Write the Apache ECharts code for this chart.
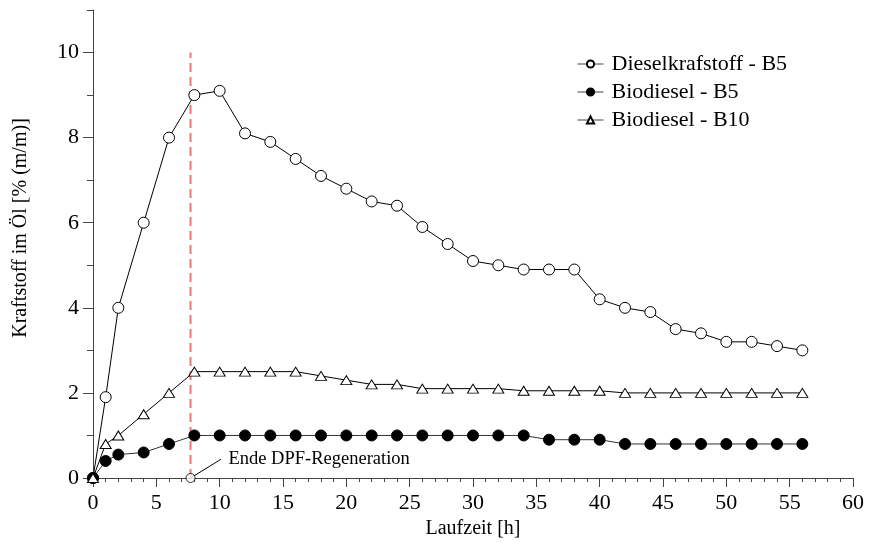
<!DOCTYPE html>
<html>
<head>
<meta charset="utf-8">
<script src="https://cdn.jsdelivr.net/npm/echarts@6/dist/echarts.min.js"></script>
<style>
html,body{margin:0;padding:0;background:#fff;}
#chart{width:869px;height:542px;}
</style>
</head>
<body>
<div id="chart"></div>
<script>
const hours = [0,1,2,4,6,8,10,12,14,16,18,20,22,24,26,28,30,32,34,36,38,40,42,44,46,48,50,52,54,56];
const diesel = [0,1.9,4.0,6.0,8.0,9.0,9.1,8.1,7.9,7.5,7.1,6.8,6.5,6.4,5.9,5.5,5.1,5.0,4.9,4.9,4.9,4.2,4.0,3.9,3.5,3.4,3.2,3.2,3.1,3.0];
const bioB5 = [0,0.4,0.55,0.6,0.8,1,1,1,1,1,1,1,1,1,1,1,1,1,1,0.9,0.9,0.9,0.8,0.8,0.8,0.8,0.8,0.8,0.8,0.8];
const bioB10 = [0,0.8,1.0,1.5,2.0,2.5,2.5,2.5,2.5,2.5,2.4,2.3,2.2,2.2,2.1,2.1,2.1,2.1,2.05,2.05,2.05,2.05,2.0,2.0,2.0,2.0,2.0,2.0,2.0,2.0];
const seriesNames = ['Dieselkrafstoff - B5','Biodiesel - B5','Biodiesel - B10'];
const regenTime = 7.7;
const regenLine = [[regenTime,0],[regenTime,10]];
const annotationLeader = [[regenTime,0],[10.1,0.44]];
const annotationText = 'Ende DPF-Regeneration';
const xTitle = 'Laufzeit [h]';
const yTitle = 'Kraftstoff im Öl [% (m/m)]';

const FONT = '"Liberation Serif", "Times New Roman", serif';
const zip = (xs, ys) => xs.map((x,i)=>[x, ys[i]]);

const chart = echarts.init(document.getElementById('chart'), null, {renderer:'canvas'});
const axisCol = '#444';
chart.setOption({
  animation:false,
  backgroundColor:'#fff',
  textStyle:{fontFamily:FONT, color:'#000'},
  grid:{left:93, right:16, top:10, bottom:64, containLabel:false, outerBoundsMode:'none'},
  legend:{
    orient:'vertical', left:577, top:53, padding:0,
    itemWidth:26, itemHeight:9, itemGap:6,
    lineStyle:{width:1, color:'#444'},
    textStyle:{fontFamily:FONT, fontSize:22, color:'#000', lineHeight:22, padding:[0,0,0,3]},
    data:seriesNames
  },
  xAxis:[{
    type:'value', min:0, max:60, interval:5,
    name:xTitle, nameLocation:'middle', nameGap:36,
    nameTextStyle:{fontFamily:FONT, fontSize:20, color:'#000'},
    axisLine:{show:true, lineStyle:{color:axisCol, width:1}},
    axisTick:{show:true, length:9, inside:false, lineStyle:{color:axisCol}},
    minorTick:{show:true, splitNumber:5, length:4, lineStyle:{color:axisCol}},
    axisLabel:{fontFamily:FONT, fontSize:22, color:'#000', margin:14},
    splitLine:{show:false}
  }],
  yAxis:[{
    type:'value', min:0, max:11, interval:1,
    name:yTitle, nameLocation:'middle', nameGap:62, nameRotate:90,
    nameTextStyle:{fontFamily:FONT, fontSize:20, color:'#000', padding:[0,0,0,32]},
    axisLine:{show:true, lineStyle:{color:axisCol, width:1}},
    axisTick:{show:true, length:6, lineStyle:{color:axisCol}},
    axisLabel:{show:false},
    splitLine:{show:false}
  },{
    type:'value', min:0, max:11, interval:2, position:'left', offset:0,
    axisLine:{show:false},
    axisTick:{show:true, length:10, lineStyle:{color:axisCol}},
    axisLabel:{fontFamily:FONT, fontSize:22, color:'#000', margin:14, showMaxLabel:false,
      formatter:v => (v % 2 === 0 ? String(v) : '')},
    splitLine:{show:false}
  }],
  series:[
    {
      name:'regen', type:'line', data:regenLine, symbol:'none', silent:true,
      lineStyle:{color:'#e87878', width:2, type:[9,5]}, z:1
    },
    {
      name:'leader', type:'line', data:annotationLeader, symbol:'none', silent:true,
      lineStyle:{color:'#000', width:1}, z:2
    },
    {
      name:'annotText', type:'scatter', data:[annotationLeader[1]], symbolSize:1, silent:true,
      itemStyle:{color:'rgba(0,0,0,0)'},
      label:{show:true, position:'right', distance:7, formatter:annotationText,
        fontFamily:FONT, fontSize:18.5, color:'#000', opacity:1}, z:6
    },
    {
      name:'annotMarker', type:'scatter', data:[annotationLeader[0]], symbol:'circle', symbolSize:9, silent:true,
      itemStyle:{color:'#fff', borderColor:'#000', borderWidth:1}, z:5
    },
    {
      name:seriesNames[0], type:'line', data:zip(hours,diesel), symbol:'circle', symbolSize:11,
      lineStyle:{color:'#000', width:1}, itemStyle:{color:'#fff', borderColor:'#000', borderWidth:1}, z:4
    },
    {
      name:seriesNames[1], type:'line', data:zip(hours,bioB5), symbol:'circle', symbolSize:11,
      lineStyle:{color:'#333', width:1}, itemStyle:{color:'#000', borderColor:'#000', borderWidth:1}, z:4
    },
    {
      name:seriesNames[2], type:'line', data:zip(hours,bioB10), symbol:'triangle', symbolSize:[11,9],
      lineStyle:{color:'#000', width:1}, itemStyle:{color:'#fff', borderColor:'#000', borderWidth:1}, z:4
    }
  ]
});
</script>
</body>
</html>
